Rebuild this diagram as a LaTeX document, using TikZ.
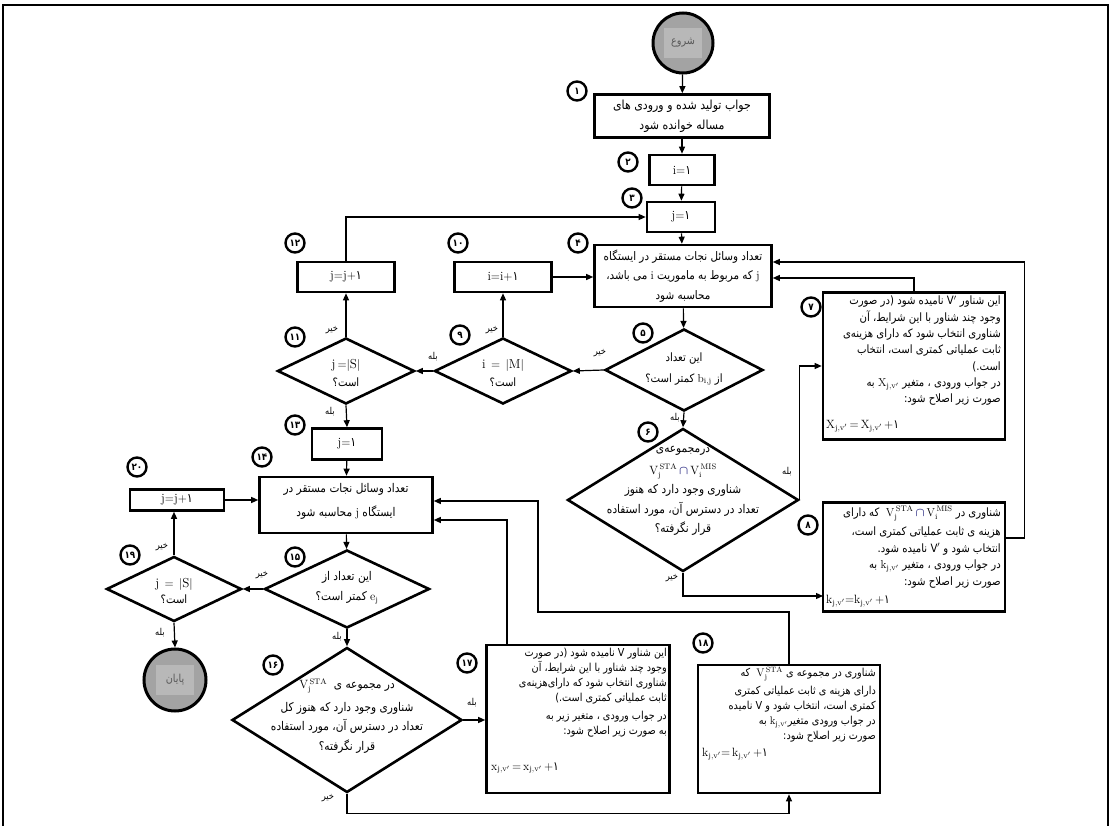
\documentclass[tikz,border=0pt]{standalone}
\usepackage{fontspec}
\usepackage{amsmath}
\usetikzlibrary{shapes.geometric,arrows.meta,calc}
\TeXXeTstate=1
\newfontfamily\fa[Script=Arabic,FakeStretch=0.88]{DejaVu Sans}
\newcommand\R[1]{\beginR#1\endR}
\newcommand\Lm[1]{\beginL#1\endL}
\newcommand\VS{\ensuremath{\mathrm{V}_{\mathrm{j}}^{\,\mathrm{STA}}}}
\newcommand\VM{\ensuremath{\mathrm{V}_{\mathrm{i}}^{\,\mathrm{MIS}}}}
\definecolor{capc}{HTML}{3A3A8C}
\newcommand\cp{\ensuremath{\textcolor{capc}{\boldsymbol{\cap}}}}
\newcommand\sx[1]{\ensuremath{\mathrm{#1}_{\mathrm{j,v'}}}}
\newcommand\one{{\fa ۱}}
\begin{document}
\begin{tikzpicture}[x=1pt,y=-1pt,
  box/.style={draw, line width=2.6pt, inner sep=0, fill=white, font=\fontsize{12.5}{14}\selectfont},
  dia/.style={diamond, draw, line width=2.6pt, inner sep=0, fill=white},
  arr/.style={line width=1.2pt, -{Triangle[length=7pt,width=6pt]}},
  txt/.style={font=\fa\fontsize{11}{19}\selectfont, align=center, inner sep=0},
  ptxt/.style={align=right, inner sep=0, anchor=north east},
  ftxt/.style={font=\fontsize{12}{13}\selectfont, inner sep=0, anchor=west},
  lbl/.style={font=\fa\fontsize{9.5}{10}\selectfont, inner sep=0},
  num/.style={circle, draw, line width=2.4pt, fill=white, minimum size=19pt, inner sep=0, font=\fa\bfseries\fontsize{10}{10}\selectfont},
  term/.style={circle, draw, line width=3pt, fill=black!36, minimum size=60pt, inner sep=0},
  termin/.style={fill=black!28, minimum width=38pt, minimum height=30pt, inner sep=0, text=black!65, font=\fa\fontsize{11}{11}\selectfont}
]
\useasboundingbox (0,0) rectangle (1112,826);
% frame
\draw[line width=1.5pt] (3,826) -- (3,5) -- (1108,5) -- (1108,826);

% nodes
\node[term] (start) at (683,43) {};
\node[termin] (startt) at (start.center) {شروع};

\node[box, minimum width=175pt, minimum height=43pt] (b1) at (682,116) {};
\node[txt, font=\fa\fontsize{12.5}{20}\selectfont] (b1t) at (b1.center) {\R{جواب تولید شده و ورودی های}\\ \R{مساله خوانده شود}};

\node[box, minimum width=65pt, minimum height=30pt] (b2) at (682,170) {$\mathrm{i}{=}$\one};
\node[box, minimum width=68pt, minimum height=30pt] (b3) at (681,217) {$\mathrm{j}{=}$\one};

\node[box, minimum width=177pt, minimum height=62pt] (b4) at (683,276) {};
\node[txt, font=\fa\fontsize{11.8}{19.5}\selectfont] (b4t) at (b4.center) {\R{تعداد وسائل نجات مستقر در ایستگاه}\\ \R{\Lm{$\mathrm{j}$} که مربوط به ماموریت \Lm{$\mathrm{i}$} می باشد،}\\ \R{محاسبه شود}};

\node[dia, minimum width=158pt, minimum height=82pt] (d5) at (684,370) {};
\node[txt, font=\fa\fontsize{11.5}{21}\selectfont] (d5t) at (684,369) {\R{این تعداد}\\ \R{از \Lm{$\mathrm{b}_{\mathrm{i,j}}$} کمتر است؟}};

\node[dia, minimum width=231pt, minimum height=143pt] (d6) at (683,500) {};
\node[txt, font=\fa\fontsize{12}{19.5}\selectfont] (d6t) at (683,491) {\R{درمجموعه^^^^200cی}\\[2pt] \Lm{\VS\,\cp\,\VM}\\ \R{شناوری وجود دارد که هنوز}\\ \R{تعداد در دسترس آن، مورد استفاده}\\ \R{قرار نگرفته؟}};

\node[box, minimum width=182pt, minimum height=147pt] (b7) at (914,366) {};
\node[ptxt, font=\fa\fontsize{11.5}{16.3}\selectfont] (b7t) at (1001,296) {\R{این شناور \Lm{V$'$} نامیده شود (در صورت}\\ \R{وجود چند شناور با این شرایط، آن}\\ \R{شناوری انتخاب شود که دارای هزینه^^^^200cی}\\ \R{ثابت عملیاتی کمتری است، انتخاب}\\ \R{است.)}\\ \R{در جواب ورودی ، متغیر \Lm{\sx{X}} به}\\ \R{صورت زیر اصلاح شود:}};
\node[ftxt] (b7f) at (826,426) {\sx{X}$\,=\,$\sx{X}$\,+$\one};

\node[box, minimum width=182pt, minimum height=109pt] (b8) at (914,557) {};
\node[ptxt, font=\fa\fontsize{11.5}{16.5}\selectfont] (b8t) at (1001,506) {\R{شناوری در\ \Lm{\VS\,\cp\,\VM}\ \ که دارای}\\[3pt] \R{هزینه ی ثابت عملیاتی کمتری است،}\\ \R{انتخاب شود و \Lm{V$'$} نامیده شود.}\\ \R{در جواب ورودی ، متغیر \Lm{\sx{k}} به}\\ \R{صورت زیر اصلاح شود:}};
\node[ftxt] (b8f) at (826,601) {\sx{k}$=$\sx{k}$\,+$\one};

\node[dia, minimum width=137pt, minimum height=66pt] (d9) at (503,371) {};
\node[txt, font=\fa\fontsize{11.5}{18}\selectfont] (d9t) at (503,373) {\fontsize{13}{14}\selectfont$\mathrm{i}\,=\,|\mathrm{M}|$\\ \R{است؟}};
\node[box, minimum width=97pt, minimum height=30pt] (b10) at (503,277) {$\mathrm{i}{=}\mathrm{i}{+}$\one};

\node[dia, minimum width=137pt, minimum height=66pt] (d11) at (346,371) {};
\node[txt, font=\fa\fontsize{11.5}{18}\selectfont] (d11t) at (346,373) {\fontsize{13}{14}\selectfont$\mathrm{j}\,{=}|\mathrm{S}|$\\ \R{است؟}};
\node[box, minimum width=97pt, minimum height=30pt] (b12) at (346,277) {$\mathrm{j}{=}\mathrm{j}{+}$\one};

\node[box, minimum width=70pt, minimum height=31pt] (b13) at (347,444) {$\mathrm{j}{=}$\one};

\node[box, minimum width=173pt, minimum height=56pt] (b14) at (346,505) {};
\node[txt, font=\fa\fontsize{12}{24}\selectfont] (b14t) at (346,501) {\R{تعداد وسائل نجات مستقر در}\\ \R{ایستگاه \Lm{$\mathrm{j}$} محاسبه شود}};

\node[box, minimum width=94pt, minimum height=21pt] (b20) at (177,500) {$\mathrm{j}{=}\mathrm{j}{+}$\one};

\node[dia, minimum width=165pt, minimum height=78pt] (d15) at (347,589) {};
\node[txt, font=\fa\fontsize{12}{20}\selectfont] (d15t) at (347,588) {\R{این تعداد از}\\ \R{\Lm{$\mathrm{e}_{\mathrm{j}}$} کمتر است؟}};

\node[dia, minimum width=135pt, minimum height=65pt] (d19) at (174,589) {};
\node[txt, font=\fa\fontsize{11.5}{16}\selectfont] (d19t) at (174,591) {\fontsize{13}{14}\selectfont$\mathrm{j}\,=\,|\mathrm{S}|$\\ \R{است؟}};

\node[term, minimum size=62pt] (end) at (175,680) {};
\node[termin] (endt) at (end.center) {پایان};

\node[dia, minimum width=230pt, minimum height=145pt] (d16) at (347,720) {};
\node[txt, font=\fa\fontsize{12}{19.5}\selectfont] (d16t) at (347,716) {\R{در مجموعه ی\ \ \Lm{\VS}}\\[3pt] \R{شناوری وجود دارد که هنوز کل}\\ \R{تعداد در دسترس آن، مورد استفاده}\\ \R{قرار نگرفته؟}};

\node[box, minimum width=183pt, minimum height=148pt] (b17) at (578,719) {};
\node[ptxt, font=\fa\fontsize{11}{15}\selectfont] (b17t) at (667,648) {\R{این شناور \Lm{V} نامیده شود (در صورت}\\ \R{وجود چند شناور با این شرایط، آن}\\ \R{شناوری انتخاب شود که دارای^^^^200cهزینه^^^^200cی}\\ \R{ثابت عملیاتی کمتری است.)}\\[3pt] \R{در جواب ورودی ، متغیر زیر به}\\ \R{به صورت زیر اصلاح شود:}};
\node[ftxt] (b17f) at (491,768) {\sx{x}$\,=\,$\sx{x}$\,+$\one};

\node[box, minimum width=182pt, minimum height=128pt] (b18) at (789,729) {};
\node[ptxt, font=\fa\fontsize{11}{15}\selectfont] (b18t) at (876,667) {\R{شناوری در مجموعه ی\ \Lm{\VS}\ \ که}\\[3pt] \R{دارای هزینه ی ثابت عملیاتی کمتری}\\ \R{کمتری است، انتخاب شود و \Lm{V} نامیده}\\ \R{در جواب ورودی متغیر\Lm{\sx{k}} به}\\ \R{صورت زیر اصلاح شود:}};
\node[ftxt] (b18f) at (702,754) {\sx{k}$=$\,\sx{k}$\,+$\one};

% step numbers
\node[num] (n1) at (577,91) {۱};
\node[num] (n2) at (628,162) {۲};
\node[num] (n3) at (632,198) {۳};
\node[num] (n4) at (578,243) {۴};
\node[num] (n5) at (643,333) {۵};
\node[num] (n6) at (648,432) {۶};
\node[num] (n7) at (811,307) {۷};
\node[num] (n8) at (808,525) {۸};
\node[num] (n9) at (460,335) {۹};
\node[num] (n10) at (458,243) {۱۰};
\node[num] (n11) at (295,337) {۱۱};
\node[num] (n12) at (295,243) {۱۲};
\node[num] (n13) at (295,425) {۱۳};
\node[num] (n14) at (262,457) {۱۴};
\node[num] (n15) at (295,557) {۱۵};
\node[num] (n16) at (273,665) {۱۶};
\node[num] (n17) at (467,663) {۱۷};
\node[num] (n18) at (703,643) {۱۸};
\node[num] (n19) at (130,555) {۱۹};
\node[num] (n20) at (137,467) {۲۰};

% connectors
\draw[arr] (start) -- (b1);
\draw[arr] (b1) -- (b2);
\draw[arr] (b2) -- (b3);
\draw[arr] (b3) -- (b4);
\draw[arr] (b4) -- (d5);
\draw[arr] (d5.south) -- (d6.north);
\draw[arr] (d5.west) -- (d9.east);
\draw[arr] (d9.north) -- (b10.south);
\draw[arr] (b10.east) -- (b10.east -| b4.west);
\draw[arr] (d9.west) -- (d11.east);
\draw[arr] (d11.north) -- (b12.south);
\draw[arr] (b12.north) |- (b3.west);
\draw[arr] (d11.south) -- (b13.north);
\draw[arr] (b13) -- (b14);
\draw[arr] (d6.east) |- (b7.west);
\coordinate (k8) at (823,596);
\draw[arr] (d6.south) |- (k8);
\draw[arr] (b7.north) |- ([yshift=-2pt]b4.east);
\draw[arr] ([yshift=19pt]b8.east) -- ++(18,0) |- ([yshift=14pt]b4.east);
\draw[arr] (b14) -- (d15);
\draw[arr] (d15.west) -- (d19.east);
\draw[arr] (d15.south) -- (d16.north);
\draw[arr] (d19.north) -- (d19.north |- b20.south);
\draw[arr] (d19.south) -- (end.north);
\draw[arr] (b20.east) -- (b20.east -| b14.west);
\draw[arr] (d16.east) -- (d16.east -| b17.west);
\draw[arr] ([xshift=-71pt]b17.north) |- ([yshift=-15pt]b14.east);
\coordinate (k18) at (538,612);
\draw[arr] (b18.north) |- (k18) |- ([yshift=4pt]b14.east);
\draw[arr] (d16.south) -- ++(0,20) -| (b18.south);

% labels
\node[lbl] (l1) at (675,418) {بله};
\node[lbl] (l2) at (600,353) {خیر};
\node[lbl] (l3) at (492,330) {خیر};
\node[lbl] (l4) at (433,357) {بله};
\node[lbl] (l5) at (332,330) {خیر};
\node[lbl] (l6) at (330,412) {بله};
\node[lbl] (l7) at (787,472) {بله};
\node[lbl] (l8) at (672,578) {خیر};
\node[lbl] (l9) at (262,575) {خیر};
\node[lbl] (l10) at (337,637) {بله};
\node[lbl] (l11) at (162,547) {خیر};
\node[lbl] (l12) at (160,633) {بله};
\node[lbl] (l13) at (472,703) {بله};
\node[lbl] (l14) at (328,798) {خیر};
\end{tikzpicture}
\end{document}
